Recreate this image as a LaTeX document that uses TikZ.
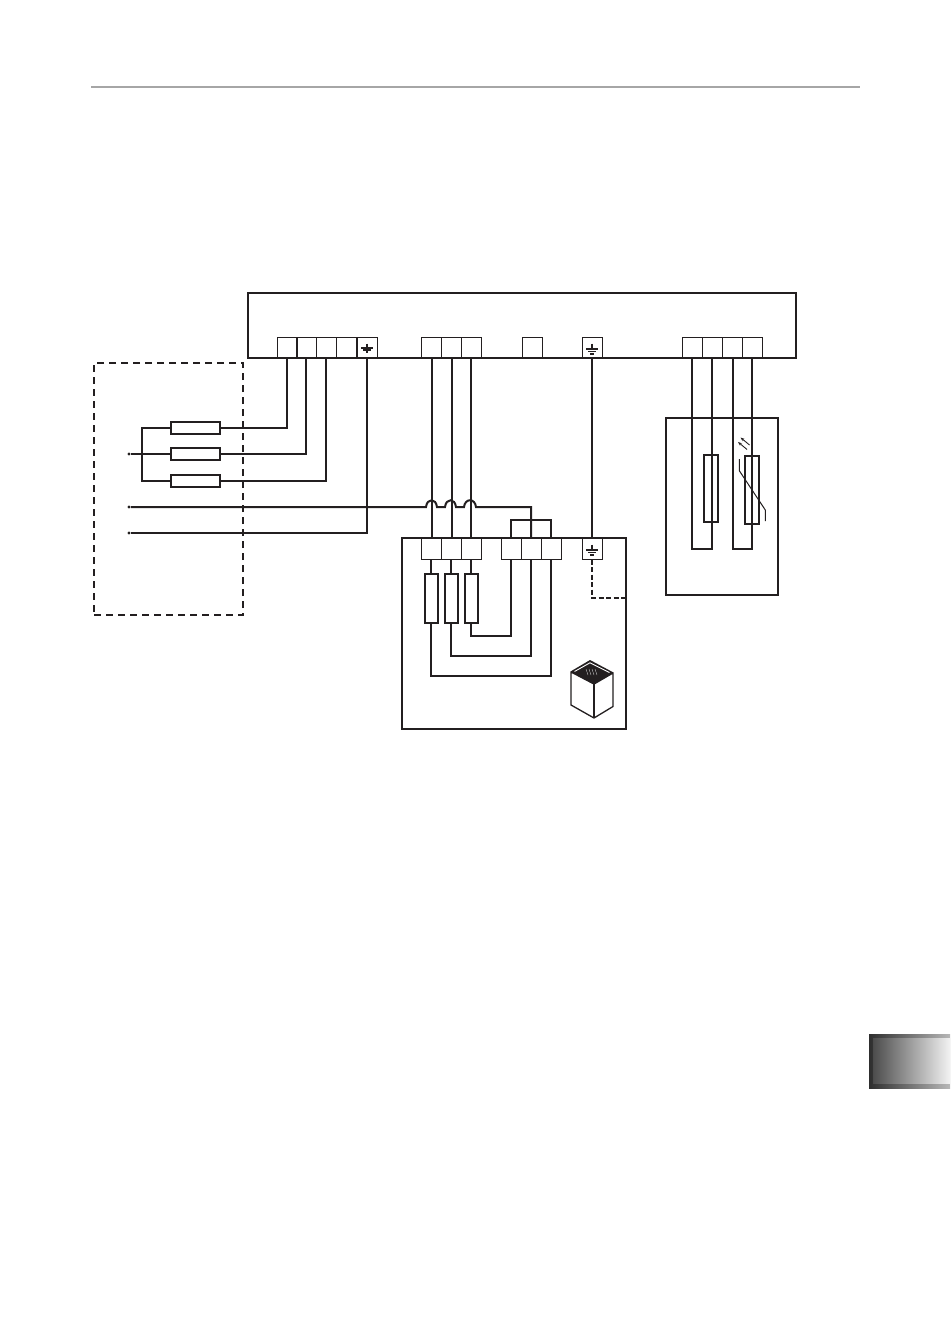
\documentclass[tikz,border=0pt]{standalone}
\usetikzlibrary{arrows.meta}
\definecolor{inkblack}{HTML}{231F20}
\tikzset{
  wire/.style={draw=inkblack,line width=2pt,line join=miter},
  thinwire/.style={draw=inkblack,line width=1pt},
  framebox/.style={draw=inkblack,line width=2pt,inner sep=0pt},
  termbox/.style={draw=inkblack,line width=1pt,inner sep=0pt,minimum width=20pt,minimum height=21pt},
  fusebox/.style={draw=inkblack,line width=2pt,inner sep=0pt,minimum width=49pt,minimum height=12pt},
  resbox/.style={draw=inkblack,line width=2pt,inner sep=0pt,minimum width=13pt},
  tipdot/.style={circle,fill=inkblack,inner sep=0pt,minimum size=3.4pt},
  earthmark/.pic={
    \draw (0,-4) -- (0,2);
    \draw (-6,1.5) -- (6,1.5);
    \draw (-4,4) -- (4,4);
    \draw (-2,6.5) -- (2,6.5);
  },
  earthheavy/.pic={
    \draw (0,-4) -- (0,5);
    \draw (-6,0.5) -- (6,0.5);
    \draw (-4,2.5) -- (4,2.5);
  }
}
\begin{document}
\begin{tikzpicture}[x=1pt,y=-1pt]
  \useasboundingbox (0,0) rectangle (950,1338);
  % page rule and tab
  \draw[color=black!35,line width=1.8pt] (91,87) -- (860,87);
  \shade[left color=black!82,right color=black!28] (869,1034) rectangle (950,1088);
  \shade[left color=black!70,right color=black!5] (873,1038) rectangle (950,1083);
  % frames
  \node[framebox,minimum width=548pt,minimum height=65pt] (mainbox) at (522,325.5) {};
  \node[framebox,minimum width=224pt,minimum height=191pt] (heaterbox) at (514,633.5) {};
  \node[framebox,minimum width=112pt,minimum height=177pt] (sensorbox) at (722,506.5) {};
  \node[draw=inkblack,line width=2pt,dash pattern=on 7pt off 5pt,minimum width=149pt,minimum height=252pt,inner sep=0pt] (fusegroup) at (168.5,489) {};
  % terminals
  \foreach \name/\x in {mainA/287,mainB/306,mainC/326,mainD/346,mainE/367,mainF/431,mainG/451,mainH/471,mainI/532,mainJ/592,mainK/692,mainL/712,mainM/732,mainN/752}
    \node[termbox] (\name) at (\x,347.5) {};
  \foreach \name/\x in {lowA/431,lowB/451,lowC/471,lowD/511,lowE/531,lowF/551,lowG/592}
    \node[termbox] (\name) at (\x,548.5) {};
  \pic[draw=inkblack,line width=2pt] at (mainE.center) {earthheavy};
  \pic[draw=inkblack,line width=1.2pt] at (mainJ.center) {earthmark};
  \pic[draw=inkblack,line width=1.2pt] at (lowG.center) {earthmark};
  % fuses
  \foreach \name/\y in {fuseA/428,fuseB/454,fuseC/481}
    \node[fusebox] (\name) at (195.5,\y) {};
  \node[tipdot] (feedM) at (129,454) {};
  \node[tipdot] (feedL) at (129,507) {};
  \node[tipdot] (feedN) at (129,533) {};
  \coordinate (busM) at (142,454);
  \draw[wire] (feedM) -- (fuseB.west);
  \draw[wire] (fuseA.west) -| (busM) |- (fuseC.west);
  \draw[wire] (fuseA.east) -| (mainA.south);
  \draw[wire] (fuseB.east) -| (mainB.south);
  \draw[wire] (fuseC.east) -| (mainC.south);
  \draw[wire] (feedN) -| (mainE.south);
  \draw[wire] (feedL) -- ++(297,0)
    .. controls +(1,-9) and +(-1,-9) .. ++(11,0) -- ++(8,0)
    .. controls +(1,-9) and +(-1,-9) .. ++(11,0) -- ++(8,0)
    .. controls +(1,-9) and +(-1,-9) .. ++(12,0) -| (lowE.north);
  \draw[wire] (lowD.north) |- (551,520) -- (lowF.north);
  % heater elements
  \draw[wire] ([xshift=1pt]mainF.south) -- ([xshift=1pt]lowA.north);
  \draw[wire] ([xshift=1pt]mainG.south) -- ([xshift=1pt]lowB.north);
  \draw[wire] (mainH.south) -- (lowC.north);
  \draw[wire] (mainJ.south) -- (lowG.north);
  \foreach \name/\x in {resA/431,resB/451,resC/471}
    \node[resbox,minimum height=49pt] (\name) at (\x,598.5) {};
  \draw[wire] (lowA.south) -- (resA.north);
  \draw[wire] (lowB.south) -- (resB.north);
  \draw[wire] (lowC.south) -- (resC.north);
  \draw[wire] (resA.south) |- (551,676) -- (lowF.south);
  \draw[wire] (resB.south) |- (531,656) -- (lowE.south);
  \draw[wire] (resC.south) |- (511,636) -- (lowD.south);
  \coordinate (bondA) at (592,598);
  \draw[wire,dash pattern=on 5pt off 2.5pt] (lowG.south) -- (bondA) -- (bondA -| heaterbox.east);
  % stove icon
  \draw[draw=inkblack,line width=1.3pt,line join=round,fill=white] (571,672) -- (571,705) -- (594,718) -- (613,706.5) -- (613,673) -- (594,684) -- cycle;
  \draw[thinwire,line width=1.3pt] (594,684) -- (594,718);
  \fill[inkblack] (570.5,671.5) -- (590,660) -- (613.5,672.5) -- (594,684.5) -- cycle;
  \draw[white,line width=0.9pt] (574.5,671.5) -- (590,662.8) -- (609.5,672.5);
  \foreach \x in {586,589,592,595}
    \draw[white,line width=0.3pt] (\x,669) -- (\x+2,675);
  % sensors
  \draw[wire] (mainK.south) |- (712,549) -- (mainL.south);
  \draw[wire] ([xshift=1pt]mainM.south) |- (752,549) -- (mainN.south);
  \node[resbox,minimum height=67pt,minimum width=14pt] (senseA) at (711,488.5) {};
  \node[resbox,minimum height=68pt,minimum width=14pt] (senseB) at (752,490) {};
  \draw[thinwire] (739.3,459) -- (739.3,470.7) -- (765.3,510) -- (765.3,521);
  \draw[-{Stealth[length=4pt,width=3pt]},inkblack,line width=0.9pt] (749.5,445) -- (740.5,437.5);
  \draw[-{Stealth[length=4pt,width=3pt]},inkblack,line width=0.9pt] (747,449.5) -- (738,442);
\end{tikzpicture}
\end{document}
